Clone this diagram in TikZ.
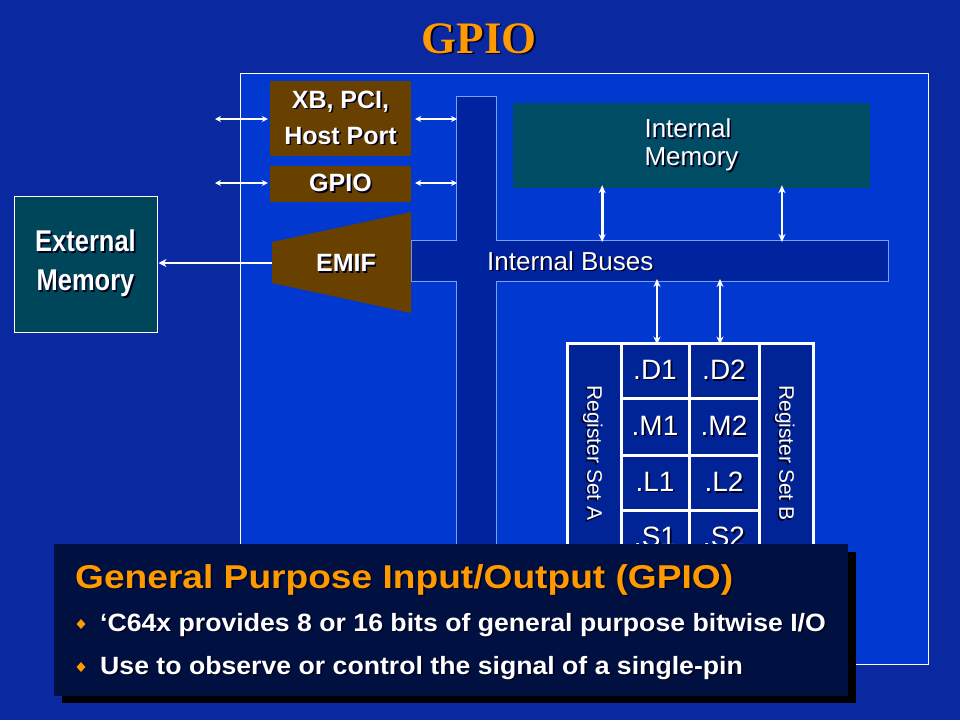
\documentclass[tikz,border=0pt]{standalone}
\usepackage{fontspec}
\setmainfont{Liberation Sans}
\newfontfamily\titlefont{Liberation Serif}
\newfontfamily\headfont{Liberation Sans}[FakeStretch=1.125]
\newfontfamily\bulfont{Liberation Sans}[FakeStretch=1.066]
\newfontfamily\narrowfont{Liberation Sans}[FakeStretch=0.85]
\usetikzlibrary{arrows.meta,calc,shapes.geometric}
\definecolor{bgout}{RGB}{10,40,160}
\definecolor{chipc}{RGB}{0,56,208}
\definecolor{busc}{RGB}{0,36,160}
\definecolor{busline}{RGB}{120,160,255}
\definecolor{cellc}{RGB}{0,36,150}
\definecolor{navyc}{RGB}{0,16,64}
\definecolor{tealc}{RGB}{0,76,100}
\definecolor{tealx}{RGB}{0,70,90}
\definecolor{brownc}{RGB}{104,64,0}
\definecolor{orng}{RGB}{255,153,0}
\definecolor{shadowc}{RGB}{0,0,30}
\newcommand{\sh}[1]{\makebox[0pt][l]{\kern1.6pt\raisebox{-1.6pt}{\textcolor{shadowc}{#1}}}#1}
\tikzset{
  fs/.style={font=\fontsize{#1}{#1}\selectfont},
  brownbox/.style={fill=brownc, inner sep=0pt, text=white, align=center},
  cellbox/.style={fill=cellc, draw=white, line width=3pt, inner sep=0pt, text=white,
     font=\fontsize{28}{28}\selectfont},
  larr/.style={draw=white, line width=1.6pt, {Stealth[length=6pt,width=6pt]}-{Stealth[length=6pt,width=6pt]}},
  varr/.style={draw=white, line width=2.8pt, {Stealth[length=8pt,width=7pt]}-{Stealth[length=8pt,width=7pt]}},
  plain/.style={inner sep=0pt},
}
\begin{document}
\begin{tikzpicture}[x=1pt,y=-1pt]
\fill[bgout] (0,0) rectangle (960,720);
\useasboundingbox (0,0) rectangle (960,720);
% title
\node[plain, text=orng, font=\titlefont\bfseries\fontsize{45}{45}\selectfont, anchor=base] (title) at (479,53) {\sh{GPIO}};
% chip
\draw[white, line width=1pt, fill=chipc] (240,73) rectangle (928,664);
% buses
\draw[busline, fill=busc, line width=0.8pt] (456,96) -- (496,96) -- (496,240) -- (888,240) -- (888,281)
  -- (496,281) -- (496,640) -- (456,640) -- (456,281) -- (411,281) -- (411,240) -- (456,240) -- cycle;
\coordinate (busN) at (690,240);
\coordinate (busS) at (690,281);
\coordinate (vbusW) at (457,150);
\node[plain, text=white, fs=26, anchor=base west] (buslbl) at (487,270) {\sh{Internal Buses}};
% internal memory
\node[fill=tealc, minimum width=357pt, minimum height=85pt, inner sep=0pt, text=white, align=left,
  font=\fontsize{26}{28}\selectfont] (intmem) at (691.5,145.5) {\sh{Internal}\\\sh{Memory}};
% left blocks
\node[brownbox, minimum width=141pt, minimum height=75pt, font=\bfseries\fontsize{25}{36}\selectfont]
  (xb) at (340.5,118.5) {\sh{XB, PCI,}\\\sh{Host Port}};
\node[brownbox, minimum width=141pt, minimum height=36pt, font=\bfseries\fontsize{25}{25}\selectfont]
  (gpio) at (340.5,184) {\sh{GPIO}};
\fill[brownc] (272,242) -- (411,212) -- (411,313) -- (272,283) -- cycle;
\coordinate (emifL) at (272,263);
\node[plain, text=white, font=\bfseries\fontsize{25}{25}\selectfont] (emif) at (346,264) {\sh{EMIF}};
% external memory
\node[fill=tealx, draw=white, line width=1pt, minimum width=143pt, minimum height=136pt, inner sep=0pt,
  text=white, align=center, font=\narrowfont\bfseries\fontsize{30}{39}\selectfont] (extmem) at (85.5,264)
  {\sh{External}\\\sh{Memory}};
% left arrows
\coordinate (xbout) at (215,119);
\coordinate (gpout) at (215,183);
\draw[larr] (xbout) -- ([xshift=-2pt]xb.west |- xbout);
\draw[larr] ([xshift=4pt]xb.east |- xbout) -- (vbusW |- xbout);
\draw[larr] (gpout) -- ([xshift=-2pt]gpio.west |- gpout);
\draw[larr] ([xshift=4pt]gpio.east |- gpout) -- (vbusW |- gpout);
\draw[white, line width=2.8pt, -{Stealth[length=8pt,width=8pt]}] (emifL) -- ([xshift=1pt]extmem.east |- emifL);
% register file
\node[cellbox, minimum width=54pt, minimum height=290pt] (regA) at (594,488) {};
\node[cellbox, minimum width=54pt, minimum height=290pt] (regB) at (786,488) {};
\node[plain, text=white, rotate=-90, fs=21] (rsa) at (592,453) {\sh{Register Set A}};
\node[plain, text=white, rotate=-90, fs=21] (rsb) at (784,453) {\sh{Register Set B}};
\node[cellbox, minimum width=68pt, minimum height=55pt] (D1) at (655,370.5) {\sh{.D1}};
\node[cellbox, minimum width=70pt, minimum height=55pt] (D2) at (724,370.5) {\sh{.D2}};
\node[cellbox, minimum width=68pt, minimum height=57pt] (M1) at (655,426.5) {\sh{.M1}};
\node[cellbox, minimum width=70pt, minimum height=57pt] (M2) at (724,426.5) {\sh{.M2}};
\node[cellbox, minimum width=68pt, minimum height=55pt] (L1) at (655,482.5) {\sh{.L1}};
\node[cellbox, minimum width=70pt, minimum height=55pt] (L2) at (724,482.5) {\sh{.L2}};
\node[cellbox, minimum width=68pt, minimum height=56pt] (S1) at (655,538) {\sh{.S1}};
\node[cellbox, minimum width=70pt, minimum height=56pt] (S2) at (724,538) {\sh{.S2}};
% vertical arrows
\path ($(intmem.south west)!0.25!(intmem.south east)$) coordinate (im1);
\path ($(intmem.south west)!0.753!(intmem.south east)$) coordinate (im2);
\draw[varr] ([yshift=3pt]im1) -- ([yshift=-2pt]im1 |- busN);
\draw[varr] ([yshift=3pt]im2) -- ([yshift=-2pt]im2 |- busN);
\draw[varr] ([xshift=2pt,yshift=2pt]D1.north |- busS) -- ([xshift=2pt,yshift=-3pt]D1.north);
\draw[varr] ([xshift=-4pt,yshift=2pt]D2.north |- busS) -- ([xshift=-4pt,yshift=-3pt]D2.north);
% text box
\fill[black] (62,552) rectangle (856,703);
\node[fill=navyc, minimum width=794pt, minimum height=152pt, inner sep=0pt] (tbox) at (451,620) {};
\node[plain, text=orng, anchor=base west, font=\headfont\bfseries\fontsize{33}{33}\selectfont] (head) at (75,588)
  {\sh{General Purpose Input/Output (GPIO)}};
\node[diamond, fill=orng, minimum width=9pt, minimum height=10pt, inner sep=0pt] (b1) at (81,624) {};
\node[diamond, fill=orng, minimum width=9pt, minimum height=10pt, inner sep=0pt] (b2) at (81,667) {};
\node[plain, text=white, anchor=base west, font=\bulfont\bfseries\fontsize{25}{25}\selectfont] (l1) at (100,631)
  {\sh{‘C64x provides 8 or 16 bits of general purpose bitwise I/O}};
\node[plain, text=white, anchor=base west, font=\bulfont\bfseries\fontsize{25}{25}\selectfont] (l2) at (100,674)
  {\sh{Use to observe or control the signal of a single-pin}};
\end{tikzpicture}
\end{document}
